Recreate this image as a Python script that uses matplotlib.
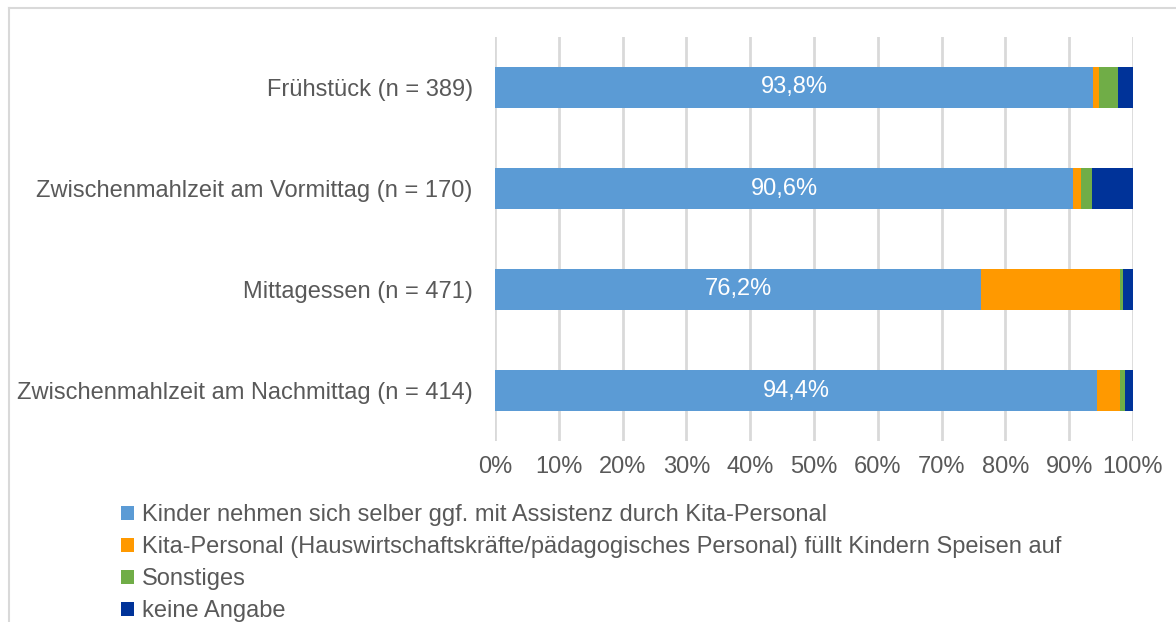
import matplotlib
matplotlib.use('Agg')
import matplotlib.pyplot as plt
import numpy as np

plt.rcParams['font.family'] = ['Liberation Sans', 'DejaVu Sans']

categories = ['Frühstück (n = 389)',
              'Zwischenmahlzeit am Vormittag (n = 170)',
              'Mittagessen (n = 471)',
              'Zwischenmahlzeit am Nachmittag (n = 414)']
series_names = ['Kinder nehmen sich selber ggf. mit Assistenz durch Kita-Personal',
                'Kita-Personal (Hauswirtschaftskräfte/pädagogisches Personal) füllt Kindern Speisen auf',
                'Sonstiges',
                'keine Angabe']
kinder = [93.8, 90.6, 76.2, 94.4]
personal = [0.8, 1.2, 21.7, 3.5]
sonstiges = [3.1, 1.8, 0.6, 0.9]
keine = [2.3, 6.4, 1.5, 1.2]
colors = ['#5B9BD5', '#FF9900', '#70AD47', '#003399']
x_ticks = [0, 10, 20, 30, 40, 50, 60, 70, 80, 90, 100]

TXT = '#595959'
FS = 17
fig = plt.figure(figsize=(11.76, 6.22), dpi=100)
ax = fig.add_axes([495 / 1176, 1 - 441 / 622, (1133 - 495) / 1176, 404 / 622])

y = np.arange(len(categories))
left = np.zeros(len(categories))
for vals, name, col in zip([kinder, personal, sonstiges, keine], series_names, colors):
    ax.barh(y, vals, left=left, height=0.4, color=col, label=name, zorder=3)
    left += np.array(vals)

for yi, v in zip(y, kinder):
    ax.text(v / 2, yi, f'{v:.1f}%'.replace('.', ','), ha='center', va='center',
            color='white', fontsize=FS, zorder=4)

ax.set_ylim(3.5, -0.5)
ax.set_xlim(0, 100)
ax.set_yticks(y)
ax.set_yticklabels(categories, fontsize=FS, color=TXT)
ax.set_xticks(x_ticks)
ax.set_xticklabels([f'{t}%' for t in x_ticks], fontsize=FS, color=TXT)
ax.tick_params(axis='y', length=0, pad=16)
ax.tick_params(axis='x', length=0, pad=11)
ax.grid(axis='x', color='#D9D9D9', linewidth=2, zorder=0)
for s in ax.spines.values():
    s.set_visible(False)

handles, labels = ax.get_legend_handles_labels()
fig.legend(handles, labels, loc='upper left', bbox_to_anchor=(112 / 1176, 1 - 495 / 622),
           frameon=False, fontsize=FS, labelcolor=TXT, handlelength=0.55, handleheight=0.55,
           handletextpad=0.3, labelspacing=0.42, borderaxespad=0)

# outer frame
fig.add_artist(plt.Line2D([9 / 1176, 1], [1 - 8 / 622, 1 - 8 / 622], color='#D9D9D9', lw=1.5,
                          transform=fig.transFigure))
fig.add_artist(plt.Line2D([9 / 1176, 9 / 1176], [0, 1 - 8 / 622], color='#D9D9D9', lw=1.5,
                          transform=fig.transFigure))

fig.savefig('out.png', dpi=100)
